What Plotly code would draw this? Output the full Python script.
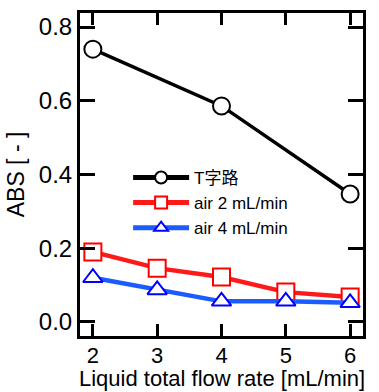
import plotly.graph_objects as go

x_t = [2, 4, 6]
y_t = [0.740, 0.586, 0.347]
x_air = [2, 3, 4, 5, 6]
y_air2 = [0.190, 0.146, 0.122, 0.081, 0.068]
y_air4 = [0.120, 0.087, 0.056, 0.056, 0.052]
names = ["T字路", "air 2 mL/min", "air 4 mL/min"]
x_ticks = [2, 3, 4, 5, 6]
y_ticks = [0.0, 0.2, 0.4, 0.6, 0.8]
x_title = "Liquid total flow rate [mL/min]"
y_title = "ABS [ - ]"

FONT = "Liberation Sans, Arial, Noto Sans CJK JP"

fig = go.Figure()
fig.add_trace(go.Scatter(x=x_t, y=y_t, name=names[0], mode="lines+markers",
                         line=dict(color="black", width=3.5),
                         marker=dict(symbol="circle", size=17, color="white",
                                     line=dict(color="black", width=2))))
fig.add_trace(go.Scatter(x=x_air, y=y_air2, name=names[1], mode="lines+markers",
                         line=dict(color="#ff1a1a", width=4.5),
                         marker=dict(symbol="square", size=17, color="white",
                                     line=dict(color="#ff0000", width=2))))
fig.add_trace(go.Scatter(x=x_air, y=y_air4, name=names[2], mode="lines+markers",
                         line=dict(color="#1a5cff", width=4.5),
                         marker=dict(symbol="triangle-up", size=17, color="white",
                                     line=dict(color="#0000ff", width=2))))

axis_common = dict(showline=True, linecolor="black", linewidth=3, mirror="allticks",
                   ticks="inside", tickcolor="black", tickwidth=3,
                   showgrid=False, zeroline=False, automargin=False)
fig.update_xaxes(range=[1.8, 6.2], tickvals=x_ticks, ticklen=12,
                 tickfont=dict(family=FONT, size=22, color="black"),
                 ticklabelstandoff=-2,
                 **axis_common)
fig.update_yaxes(range=[-0.038, 0.838], tickvals=y_ticks, tickformat=".1f", ticklen=15,
                 tickfont=dict(family=FONT, size=24, color="black"),
                 title=dict(text=y_title, standoff=8,
                            font=dict(family=FONT, size=23, color="black")),
                 **axis_common)
fig.add_annotation(text=x_title, xref="paper", yref="paper", x=0.5, y=0,
                   xanchor="center", yanchor="top", yshift=-28, showarrow=False,
                   font=dict(family=FONT, size=22, color="black"))
fig.update_layout(width=379, height=392, margin=dict(l=80, r=16, t=13, b=56),
                  paper_bgcolor="white", plot_bgcolor="white",
                  showlegend=True,
                  legend=dict(x=0.17, y=0.545, xanchor="left", yanchor="top",
                              bgcolor="rgba(0,0,0,0)", tracegroupgap=0,
                              itemsizing="constant", itemwidth=56,
                              font=dict(family=FONT, size=17, color="black")))
fig.write_html("out.html")
